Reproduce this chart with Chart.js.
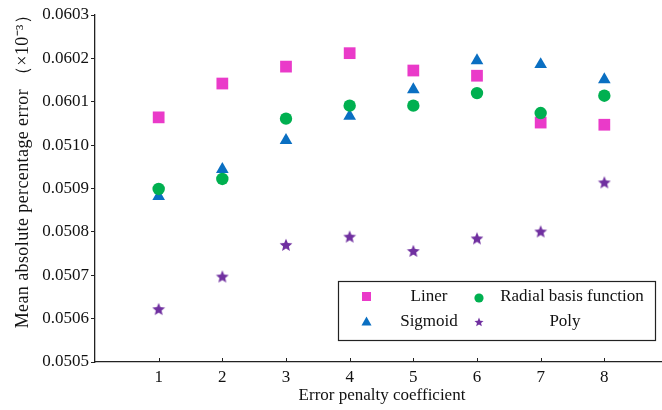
<!DOCTYPE html>
<html>
<head>
<meta charset="utf-8">
<script src="https://cdn.jsdelivr.net/npm/chart.js@4/dist/chart.umd.min.js"></script>
<style>
  html, body { margin: 0; padding: 0; background: #fff; overflow: hidden; width: 662px; height: 410px; }
  canvas { display: block; }
</style>
</head>
<body>
<canvas id="c" width="680" height="410" style="width:680px;height:410px"></canvas>
<script>
// ---- data (y values are in tick-step units of the axis: 0 = "0.0505" ... 8 = "0.0603") ----
const categories = [1, 2, 3, 4, 5, 6, 7, 8];
const linerValues   = [5.64, 6.42, 6.81, 7.12, 6.72, 6.60, 5.52, 5.47];
const sigmoidValues = [3.82, 4.44, 5.11, 5.67, 6.28, 6.95, 6.86, 6.51];
const rbfValues     = [3.99, 4.22, 5.61, 5.91, 5.91, 6.20, 5.74, 6.14];
const polyValues    = [1.22, 1.97, 2.70, 2.89, 2.56, 2.85, 3.01, 4.14];
const yTickLabels = ['0.0505', '0.0506', '0.0507', '0.0508', '0.0509', '0.0510', '0.0601', '0.0602', '0.0603'];
const xTickLabels = ['', '1', '2', '3', '4', '5', '6', '7', '8', '9'];
const seriesNames = ['Liner', 'Sigmoid', 'Radial basis function', 'Poly'];
const xTitle = 'Error penalty coefficient';
const yTitle = 'Mean absolute percentage error \uFF08\u00D710\u207B\u00B3\uFF09';

const COLORS = { liner: '#EA3AC9', sigmoid: '#0A6FC2', rbf: '#00B050', poly: '#7030A0' };
const FONT = '"Liberation Serif", "Times New Roman", serif';

function makeStar(size, color) {
  const c = document.createElement('canvas');
  c.width = size; c.height = size;
  const g = c.getContext('2d');
  const cx = size / 2, cy = size / 2 + size * 0.04;
  const R = size * 0.48, r = R * 0.45;
  g.beginPath();
  for (let i = 0; i < 10; i++) {
    const ang = -Math.PI / 2 + i * Math.PI / 5;
    const rad = i % 2 === 0 ? R : r;
    const px = cx + rad * Math.cos(ang), py = cy + rad * Math.sin(ang);
    i === 0 ? g.moveTo(px, py) : g.lineTo(px, py);
  }
  g.closePath();
  g.fillStyle = color;
  g.fill();
  return c;
}
const starBig = makeStar(14, COLORS.poly);
const starSmall = makeStar(10, COLORS.poly);

const toXY = vals => categories.map((c, i) => ({ x: c, y: vals[i] }));

const extras = {
  id: 'extras',
  afterDraw(chart) {
    const ctx = chart.ctx;
    const xs = chart.scales.x, area = chart.chartArea;
    ctx.save();
    // inward x tick marks
    ctx.strokeStyle = '#222';
    ctx.lineWidth = 1;
    for (let v = 1; v <= 9; v++) {
      const px = Math.round(xs.getPixelForValue(v)) + 0.5;
      ctx.beginPath();
      ctx.moveTo(px, area.bottom);
      ctx.lineTo(px, area.bottom - 4);
      ctx.stroke();
    }
    // axis titles
    ctx.fillStyle = '#111';
    ctx.font = '17px ' + FONT;
    ctx.textAlign = 'center';
    ctx.textBaseline = 'middle';
    ctx.fillText(xTitle, 382, 396);
    ctx.font = '18px ' + FONT;
    if ('letterSpacing' in ctx) ctx.letterSpacing = '0.4px';
    ctx.translate(23, 167);
    ctx.rotate(-Math.PI / 2);
    ctx.fillText(yTitle, 0, 0);
    ctx.restore();

    // legend
    ctx.save();
    ctx.fillStyle = '#fff';
    ctx.fillRect(338, 281, 318, 60);
    ctx.strokeStyle = '#222';
    ctx.lineWidth = 1.2;
    ctx.strokeRect(338.5, 281.5, 317, 59);
    // markers
    ctx.fillStyle = COLORS.liner;
    ctx.fillRect(362, 292, 9, 9);
    ctx.fillStyle = COLORS.rbf;
    ctx.beginPath(); ctx.arc(479, 298, 4.6, 0, Math.PI * 2); ctx.fill();
    ctx.fillStyle = COLORS.sigmoid;
    ctx.beginPath();
    ctx.moveTo(366.5, 316.5); ctx.lineTo(371.5, 325.5); ctx.lineTo(361.5, 325.5); ctx.closePath(); ctx.fill();
    ctx.drawImage(starSmall, 479 - 5, 322 - 5);
    // texts
    ctx.fillStyle = '#111';
    ctx.font = '17px ' + FONT;
    ctx.textAlign = 'center';
    ctx.textBaseline = 'middle';
    ctx.fillText(seriesNames[0], 429, 297);
    ctx.fillText(seriesNames[2], 572, 297);
    ctx.fillText(seriesNames[1], 429, 322);
    ctx.fillText(seriesNames[3], 565, 322);
    ctx.restore();
  }
};

new Chart(document.getElementById('c'), {
  type: 'scatter',
  data: {
    datasets: [
      { label: seriesNames[2], data: toXY(rbfValues), pointStyle: 'circle', pointRadius: 6.2,
        backgroundColor: COLORS.rbf, borderColor: COLORS.rbf, borderWidth: 0, order: 0 },
      { label: seriesNames[3], data: toXY(polyValues), pointStyle: starBig, pointRadius: 7,
        backgroundColor: COLORS.poly, borderColor: COLORS.poly, borderWidth: 0, order: 1 },
      { label: seriesNames[1], data: toXY(sigmoidValues), pointStyle: 'triangle', pointRadius: 7.3,
        backgroundColor: COLORS.sigmoid, borderColor: COLORS.sigmoid, borderWidth: 0, order: 2 },
      { label: seriesNames[0], data: toXY(linerValues), pointStyle: 'rect', pointRadius: 8.3,
        backgroundColor: COLORS.liner, borderColor: COLORS.liner, borderWidth: 0, order: 3 }
    ]
  },
  options: {
    responsive: false,
    animation: false,
    events: [],
    layout: { padding: { left: 0, top: 15, right: 12, bottom: 0 } },
    plugins: { legend: { display: false }, tooltip: { enabled: false } },
    scales: {
      x: {
        type: 'linear', min: 0, max: 9,
        ticks: { stepSize: 1, autoSkip: false, maxRotation: 0, padding: 5, color: '#111',
          font: { family: FONT, size: 17 },
          callback: v => xTickLabels[v] !== undefined ? xTickLabels[v] : '' },
        grid: { display: false, drawTicks: false, tickLength: 0 },
        border: { display: true, color: '#222', width: 1.3 },
        afterFit: s => { s.height = 48; }
      },
      y: {
        type: 'linear', min: 0, max: 8,
        ticks: { stepSize: 1, autoSkip: false, padding: 2, color: '#111',
          font: { family: FONT, size: 17 },
          callback: v => yTickLabels[v] !== undefined ? yTickLabels[v] : '' },
        grid: { display: true, drawOnChartArea: false, drawTicks: true, tickLength: 4, color: '#222', lineWidth: 1 },
        border: { display: true, color: '#222', width: 1.3 },
        afterFit: s => { s.width = 95; }
      }
    }
  },
  plugins: [extras]
});
</script>
</body>
</html>
